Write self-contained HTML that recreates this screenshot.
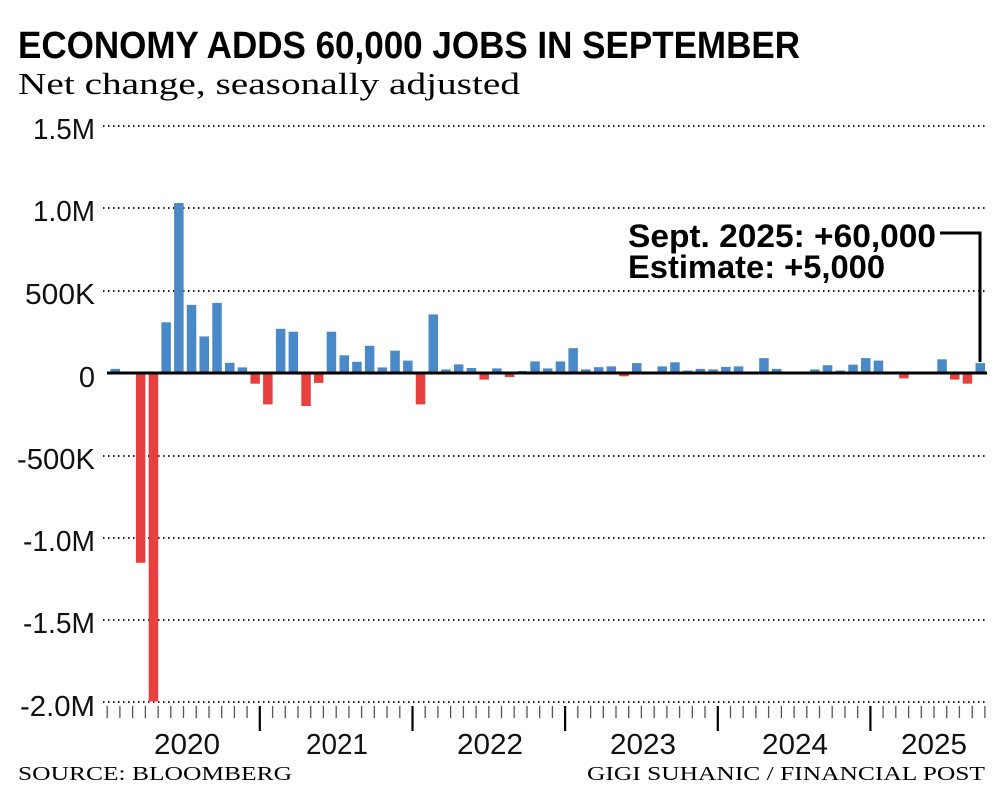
<!DOCTYPE html>
<html><head><meta charset="utf-8"><style>
html,body{margin:0;padding:0;background:#fff}
svg{display:block}
.c{font-family:"Liberation Sans Narrow","Liberation Sans",sans-serif}
</style></head><body>
<svg width="1000" height="806" viewBox="0 0 1000 806" xmlns="http://www.w3.org/2000/svg">
<text class="c" x="18" y="58" font-size="38" font-weight="bold" textLength="782" lengthAdjust="spacingAndGlyphs">ECONOMY ADDS 60,000 JOBS IN SEPTEMBER</text>
<text x="18" y="94" font-family="Liberation Serif,serif" font-size="31" textLength="502" lengthAdjust="spacingAndGlyphs">Net change, seasonally adjusted</text>
<g stroke="#222" stroke-width="2" stroke-dasharray="1.5 3.5">
<line x1="103" y1="126" x2="985" y2="126"/>
<line x1="103" y1="208" x2="985" y2="208"/>
<line x1="103" y1="291" x2="985" y2="291"/>
<line x1="103" y1="456" x2="985" y2="456"/>
<line x1="103" y1="538" x2="985" y2="538"/>
<line x1="103" y1="620" x2="985" y2="620"/>
<line x1="103" y1="702" x2="985" y2="702"/>
</g>
<g class="c" font-size="29" text-anchor="end" fill="#111">
<text x="95" y="139" textLength="62" lengthAdjust="spacingAndGlyphs">1.5M</text>
<text x="95" y="221" textLength="62" lengthAdjust="spacingAndGlyphs">1.0M</text>
<text x="95" y="304" textLength="70" lengthAdjust="spacingAndGlyphs">500K</text>
<text x="95" y="387">0</text>
<text x="95" y="469" textLength="78" lengthAdjust="spacingAndGlyphs">-500K</text>
<text x="95" y="551" textLength="72" lengthAdjust="spacingAndGlyphs">-1.0M</text>
<text x="95" y="633" textLength="72" lengthAdjust="spacingAndGlyphs">-1.5M</text>
<text x="95" y="716" textLength="75" lengthAdjust="spacingAndGlyphs">-2.0M</text>
</g>
<g fill="#4a89c8">
<rect x="110.5" y="368.9" width="9.5" height="4.1"/>
<rect x="161.4" y="322.3" width="9.5" height="50.7"/>
<rect x="174.1" y="203" width="9.5" height="170"/>
<rect x="186.8" y="304.9" width="9.5" height="68.1"/>
<rect x="199.5" y="336.4" width="9.5" height="36.6"/>
<rect x="212.3" y="302.9" width="9.5" height="70.1"/>
<rect x="225.0" y="362.8" width="9.5" height="10.2"/>
<rect x="237.7" y="367.4" width="9.5" height="5.6"/>
<rect x="275.9" y="328.8" width="9.5" height="44.2"/>
<rect x="288.6" y="331.7" width="9.5" height="41.3"/>
<rect x="326.7" y="331.7" width="9.5" height="41.3"/>
<rect x="339.5" y="355.3" width="9.5" height="17.7"/>
<rect x="352.2" y="361.8" width="9.5" height="11.2"/>
<rect x="364.9" y="345.8" width="9.5" height="27.2"/>
<rect x="377.6" y="367.4" width="9.5" height="5.6"/>
<rect x="390.3" y="350.7" width="9.5" height="22.3"/>
<rect x="403.1" y="360.6" width="9.5" height="12.4"/>
<rect x="428.5" y="314.4" width="9.5" height="58.6"/>
<rect x="441.2" y="369.4" width="9.5" height="3.6"/>
<rect x="453.9" y="364.4" width="9.5" height="8.6"/>
<rect x="466.7" y="368" width="9.5" height="5"/>
<rect x="492.1" y="368.4" width="9.5" height="4.6"/>
<rect x="517.5" y="371" width="9.5" height="2"/>
<rect x="530.3" y="361.4" width="9.5" height="11.6"/>
<rect x="543.0" y="368.4" width="9.5" height="4.6"/>
<rect x="555.7" y="361.4" width="9.5" height="11.6"/>
<rect x="568.4" y="348.2" width="9.5" height="24.8"/>
<rect x="581.1" y="369.4" width="9.5" height="3.6"/>
<rect x="593.9" y="367.2" width="9.5" height="5.8"/>
<rect x="606.6" y="366.4" width="9.5" height="6.6"/>
<rect x="632.0" y="363.1" width="9.5" height="9.9"/>
<rect x="657.5" y="366.4" width="9.5" height="6.6"/>
<rect x="670.2" y="362.3" width="9.5" height="10.7"/>
<rect x="682.9" y="370.5" width="9.5" height="2.5"/>
<rect x="695.6" y="368.9" width="9.5" height="4.1"/>
<rect x="708.3" y="369.4" width="9.5" height="3.6"/>
<rect x="721.1" y="366.9" width="9.5" height="6.1"/>
<rect x="733.8" y="366.4" width="9.5" height="6.6"/>
<rect x="759.2" y="358.1" width="9.5" height="14.9"/>
<rect x="771.9" y="368.9" width="9.5" height="4.1"/>
<rect x="810.1" y="369.4" width="9.5" height="3.6"/>
<rect x="822.8" y="365.2" width="9.5" height="7.8"/>
<rect x="835.5" y="370.5" width="9.5" height="2.5"/>
<rect x="848.3" y="364.7" width="9.5" height="8.3"/>
<rect x="861.0" y="358.1" width="9.5" height="14.9"/>
<rect x="873.7" y="360.6" width="9.5" height="12.4"/>
<rect x="911.9" y="372" width="9.5" height="1"/>
<rect x="924.6" y="371.7" width="9.5" height="1.3"/>
<rect x="937.3" y="359.3" width="9.5" height="13.7"/>
<rect x="975.5" y="363.1" width="9.5" height="9.9"/>
</g>
<g fill="#e8403f">
<rect x="135.9" y="373" width="9.5" height="189.8"/>
<rect x="148.7" y="373" width="9.5" height="328.4"/>
<rect x="250.4" y="373" width="9.5" height="10.7"/>
<rect x="263.1" y="373" width="9.5" height="31.4"/>
<rect x="301.3" y="373" width="9.5" height="33"/>
<rect x="314.0" y="373" width="9.5" height="9.9"/>
<rect x="415.8" y="373" width="9.5" height="31.4"/>
<rect x="479.4" y="373" width="9.5" height="6.6"/>
<rect x="504.8" y="373" width="9.5" height="4.1"/>
<rect x="619.3" y="373" width="9.5" height="3.3"/>
<rect x="899.1" y="373" width="9.5" height="5.4"/>
<rect x="950.0" y="373" width="9.5" height="6.6"/>
<rect x="962.7" y="373" width="9.5" height="10.7"/>
</g>
<line x1="107" y1="373" x2="987" y2="373" stroke="#000" stroke-width="3"/>
<path stroke="#555" stroke-width="1.3" fill="none" d="M107.2 706V718M119.9 706V718M132.6 706V718M145.4 706V718M158.1 706V718M170.8 706V718M183.5 706V718M196.2 706V718M209 706V718M221.7 706V718M234.4 706V718M247.1 706V718M272.6 706V718M285.3 706V718M298 706V718M310.7 706V718M323.4 706V718M336.2 706V718M348.9 706V718M361.6 706V718M374.3 706V718M387 706V718M399.8 706V718M425.2 706V718M437.9 706V718M450.6 706V718M463.4 706V718M476.1 706V718M488.8 706V718M501.5 706V718M514.2 706V718M527 706V718M539.7 706V718M552.4 706V718M577.8 706V718M590.6 706V718M603.3 706V718M616 706V718M628.7 706V718M641.4 706V718M654.2 706V718M666.9 706V718M679.6 706V718M692.3 706V718M705 706V718M730.5 706V718M743.2 706V718M755.9 706V718M768.6 706V718M781.4 706V718M794.1 706V718M806.8 706V718M819.5 706V718M832.2 706V718M845 706V718M857.7 706V718M883.1 706V718M895.8 706V718M908.6 706V718M921.3 706V718M934 706V718M946.7 706V718M959.4 706V718M972.2 706V718M984.9 706V718"/>
<path stroke="#000" stroke-width="2.2" fill="none" d="M259.8 706V731M412.5 706V731M565.1 706V731M717.8 706V731M870.4 706V731"/>
<g class="c" font-size="29" text-anchor="middle" fill="#111">
<text x="187" y="754" textLength="66" lengthAdjust="spacingAndGlyphs">2020</text>
<text x="337" y="754" textLength="62" lengthAdjust="spacingAndGlyphs">2021</text>
<text x="490" y="754" textLength="66" lengthAdjust="spacingAndGlyphs">2022</text>
<text x="643" y="754" textLength="66" lengthAdjust="spacingAndGlyphs">2023</text>
<text x="795" y="754" textLength="66" lengthAdjust="spacingAndGlyphs">2024</text>
<text x="934" y="754" textLength="66" lengthAdjust="spacingAndGlyphs">2025</text>
</g>
<text x="18" y="780" font-family="Liberation Serif,serif" font-size="20" textLength="274" lengthAdjust="spacingAndGlyphs">SOURCE: BLOOMBERG</text>
<text x="587" y="780" font-family="Liberation Serif,serif" font-size="20" textLength="398" lengthAdjust="spacingAndGlyphs">GIGI SUHANIC / FINANCIAL POST</text>
<g class="c" font-size="32" font-weight="bold" fill="#000">
<text x="628" y="247" textLength="308" lengthAdjust="spacingAndGlyphs">Sept. 2025: +60,000</text>
<text x="628" y="278" textLength="257" lengthAdjust="spacingAndGlyphs">Estimate: +5,000</text>
</g>
<polyline points="940,233 980,233 980,362" fill="none" stroke="#000" stroke-width="3"/>
</svg>
</body></html>
